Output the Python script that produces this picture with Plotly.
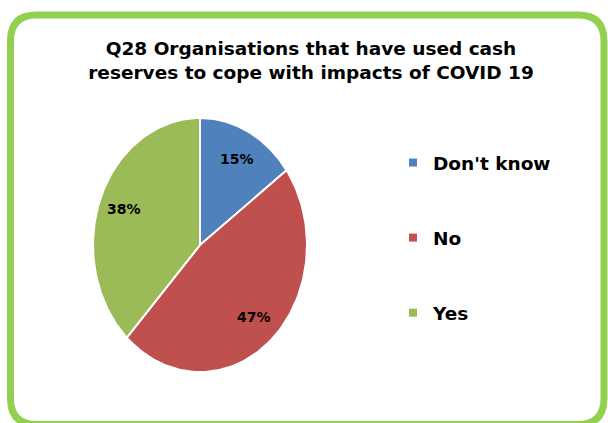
import numpy as np
import plotly.graph_objects as go

# Survey answers, shares in percent
categories = ["Don't know", "No", "Yes"]
shares = [15, 47, 38]
colors = ["#4F81BD", "#C0504D", "#9BBB59"]

title_lines = ["Q28 Organisations that have used cash",
               "reserves to cope with impacts of COVID 19"]

W, H = 608, 423
FONT = "DejaVu Sans"


def px_x(v):
    return v / W


def px_y(v):
    return 1 - v / H


fig = go.Figure()

# Pie wedges: clockwise from 12 o'clock, on an axis box stretched taller than wide
total = sum(shares)
start = 0.0
label_r = 0.76
for cat, val, col in zip(categories, shares, colors):
    sweep = 2 * np.pi * val / total
    t = np.linspace(start, start + sweep, 120)
    xs = np.concatenate([[0], np.sin(t), [0]])
    ys = np.concatenate([[0], np.cos(t), [0]])
    fig.add_trace(go.Scatter(
        x=xs, y=ys, mode="lines", fill="toself", fillcolor=col,
        line=dict(color="white", width=2), hoverinfo="skip",
        showlegend=False, xaxis="x", yaxis="y"))
    mid = start + sweep / 2
    fig.add_annotation(
        x=label_r * np.sin(mid), y=label_r * np.cos(mid), xref="x", yref="y",
        text=f"<b>{val}%</b>", showarrow=False,
        font=dict(family=FONT, size=14, color="black"))
    start += sweep

# Legend entries with small square keys
for i, (cat, col) in enumerate(zip(categories, colors)):
    fig.add_trace(go.Scatter(
        x=[None], y=[None], mode="markers", name=f"<b>{cat}</b>",
        marker=dict(symbol="square", size=8, color=col),
        legendgroup=f"g{i}", showlegend=True))

# Rounded green frame
x0, y0, x1, y1, r = 10.5, 15.0, 604.0, 424.5, 26
path = (f"M {px_x(x0 + r)},{px_y(y0)} L {px_x(x1 - r)},{px_y(y0)} "
        f"Q {px_x(x1)},{px_y(y0)} {px_x(x1)},{px_y(y0 + r)} "
        f"L {px_x(x1)},{px_y(y1 - r)} Q {px_x(x1)},{px_y(y1)} {px_x(x1 - r)},{px_y(y1)} "
        f"L {px_x(x0 + r)},{px_y(y1)} Q {px_x(x0)},{px_y(y1)} {px_x(x0)},{px_y(y1 - r)} "
        f"L {px_x(x0)},{px_y(y0 + r)} Q {px_x(x0)},{px_y(y0)} {px_x(x0 + r)},{px_y(y0)} Z")
fig.add_shape(type="path", path=path, xref="paper", yref="paper",
              line=dict(color="#92D050", width=7), fillcolor="rgba(0,0,0,0)",
              layer="below")

fig.update_layout(
    width=W, height=H,
    margin=dict(l=0, r=0, t=0, b=0),
    paper_bgcolor="white", plot_bgcolor="rgba(0,0,0,0)",
    title=dict(text="<br>".join(f"<b>{s}</b>" for s in title_lines),
               x=px_x(311), xanchor="center", y=px_y(55), yanchor="middle",
               yref="container",
               font=dict(family=FONT, size=18.5, color="black")),
    xaxis=dict(domain=[px_x(93), px_x(307)], range=[-1, 1], visible=False,
               fixedrange=True),
    yaxis=dict(domain=[px_y(372), px_y(118)], range=[-1, 1], visible=False,
               fixedrange=True),
    legend=dict(x=px_x(393), xanchor="left", y=px_y(144), yanchor="top",
                font=dict(family=FONT, size=18.5, color="black"),
                tracegroupgap=48, bgcolor="rgba(0,0,0,0)"),
    showlegend=True,
)

fig.write_html("out.html")
